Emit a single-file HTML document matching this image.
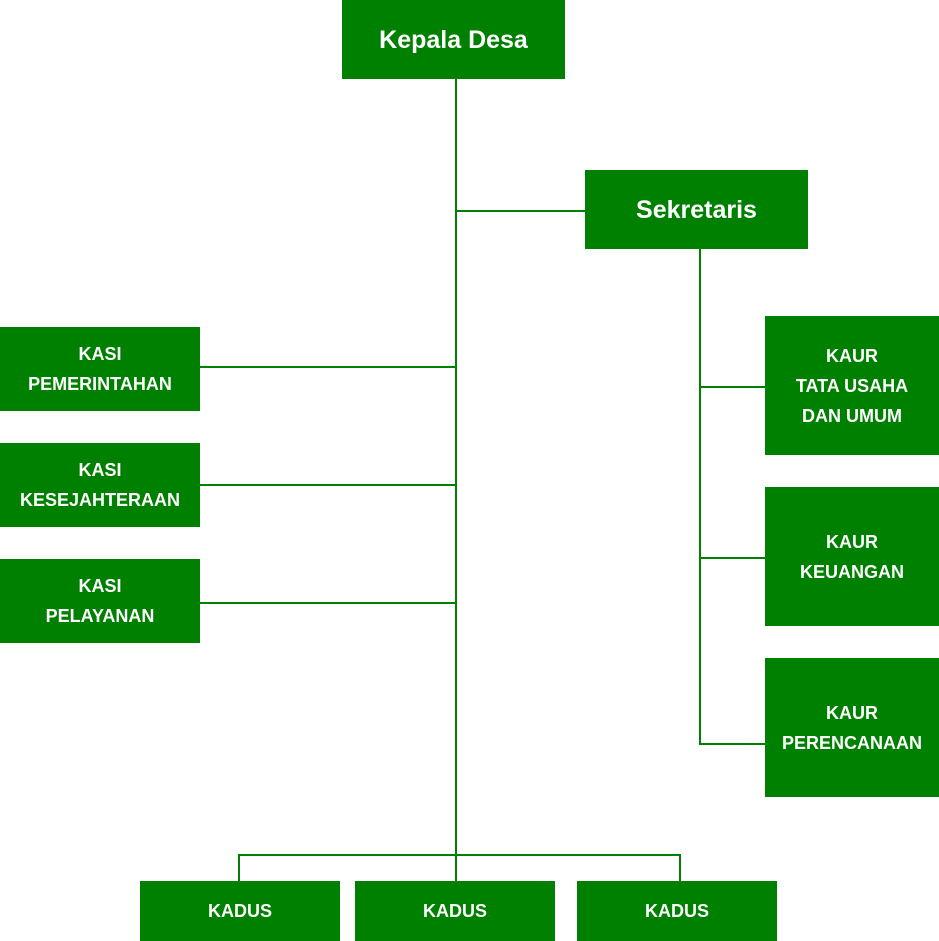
<!DOCTYPE html>
<html><head><style>
body{margin:0;width:939px;height:941px;position:relative;background:#fff;overflow:hidden;font-family:"Liberation Sans",sans-serif;font-weight:bold;color:#fff}
.b{position:absolute;background:#008000;display:flex;align-items:center;justify-content:center;text-align:center;font-size:18px;line-height:30px}
.l{position:absolute;background:#008000}
.t{font-size:25px}
</style></head><body>
<div class="l" style="left:455px;top:79px;width:2px;height:802px"></div>
<div class="l" style="left:456px;top:210px;width:129px;height:2px"></div>
<div class="l" style="left:200px;top:366px;width:256px;height:2px"></div>
<div class="l" style="left:200px;top:484px;width:256px;height:2px"></div>
<div class="l" style="left:200px;top:602px;width:256px;height:2px"></div>
<div class="l" style="left:699px;top:249px;width:2px;height:496px"></div>
<div class="l" style="left:700px;top:386px;width:65px;height:2px"></div>
<div class="l" style="left:700px;top:557px;width:65px;height:2px"></div>
<div class="l" style="left:700px;top:743px;width:65px;height:2px"></div>
<div class="l" style="left:238px;top:854px;width:443px;height:2px"></div>
<div class="l" style="left:238px;top:854px;width:2px;height:27px"></div>
<div class="l" style="left:679px;top:854px;width:2px;height:27px"></div>
<div class="b t" style="left:342px;top:0;width:223px;height:79px">Kepala Desa</div>
<div class="b t" style="left:585px;top:170px;width:223px;height:79px">Sekretaris</div>
<div class="b" style="left:0;top:327px;width:200px;height:84px">KASI<br>PEMERINTAHAN</div>
<div class="b" style="left:0;top:443px;width:200px;height:84px">KASI<br>KESEJAHTERAAN</div>
<div class="b" style="left:0;top:559px;width:200px;height:84px">KASI<br>PELAYANAN</div>
<div class="b" style="left:765px;top:316px;width:174px;height:139px">KAUR<br>TATA USAHA<br>DAN UMUM</div>
<div class="b" style="left:765px;top:487px;width:174px;height:139px">KAUR<br>KEUANGAN</div>
<div class="b" style="left:765px;top:658px;width:174px;height:139px">KAUR<br>PERENCANAAN</div>
<div class="b" style="left:140px;top:881px;width:200px;height:60px">KADUS</div>
<div class="b" style="left:355px;top:881px;width:200px;height:60px">KADUS</div>
<div class="b" style="left:577px;top:881px;width:200px;height:60px">KADUS</div>
</body></html>
